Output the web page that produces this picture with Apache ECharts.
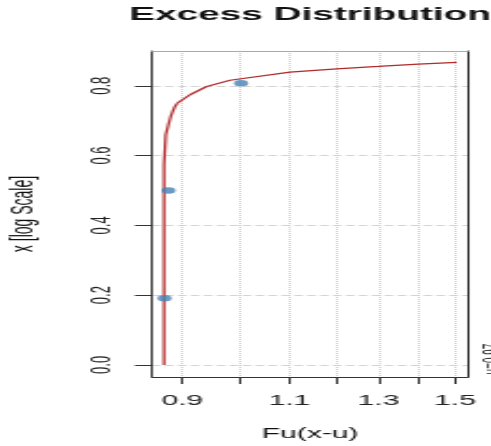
<!DOCTYPE html>
<html>
<head>
<meta charset="utf-8">
<script src="https://cdn.jsdelivr.net/npm/echarts@6/dist/echarts.min.js"></script>
<style>
  html, body { margin: 0; padding: 0; background: #fff; overflow: hidden; }
  #wrap { width: 491px; height: 446px; overflow: hidden; position: relative; }
  /* the plot is laid out narrow and widened horizontally */
  #chart { width: 228px; height: 446px; transform: scaleX(2.1535); transform-origin: 0 0; }
</style>
</head>
<body>
<div id="wrap"><div id="chart"></div></div>
<script>
const titleText = 'Excess Distribution';
const xName = 'Fu(x-u)';
const yName = 'x [log Scale]';
const noteText = 'u=0.97';

const xTicks = [0.9, 1.0, 1.1, 1.2, 1.3, 1.4, 1.5];
const xTickLabels = [0.9, 1.1, 1.3, 1.5];
const yTicks = [0, 0.2, 0.4, 0.6, 0.8];

// lower part of the fitted curve, drawn as steps
const stepX = [0.8697, 0.8697, 0.8725, 0.8768, 0.8807, 0.8840, 0.8878, 0.8917];
const stepY = [0, 0.5735, 0.6595, 0.6882, 0.7120, 0.7263, 0.7406, 0.7504];
// upper part of the fitted curve
const tailX = [0.8917, 0.8962, 0.9131, 0.9421, 0.9842, 1.1012, 1.2019, 1.2993, 1.4003, 1.5048];
const tailY = [0.7504, 0.7550, 0.7742, 0.7980, 0.8158, 0.8393, 0.8487, 0.8553, 0.8622, 0.8668];
// empirical points
const pointX = [0.8705, 0.8768, 1.0047];
const pointY = [0.191, 0.500, 0.807];

const X_MIN = 0.8504, X_MAX = 1.537;
const Y_MIN = -0.0346, Y_MAX = 0.8996;

const FONT = 'Liberation Sans, Arial, sans-serif';
const zip = (a, b) => a.map((v, i) => [v, b[i]]);

const chart = echarts.init(document.getElementById('chart'), null, { width: 228, height: 446, renderer: 'canvas' });

chart.setOption({
  animation: false,
  backgroundColor: '#ffffff',
  title: {
    text: titleText,
    left: 60,
    top: 6,
    padding: 0,
    textStyle: { fontFamily: FONT, fontWeight: 'bold', fontSize: 18, color: '#111' }
  },
  grid: { left: 70.6, right: 10.7, top: 51, bottom: 69, outerBoundsMode: 'none', show: false },
  xAxis: [{
    type: 'log',
    logBase: 10,
    min: X_MIN,
    max: X_MAX,
    position: 'bottom',
    name: xName,
    nameLocation: 'middle',
    nameGap: 50,
    nameTextStyle: { fontFamily: FONT, fontSize: 14, color: '#111' },
    axisLine: { show: true, onZero: false, lineStyle: { color: '#333', width: 1 } },
    axisTick: { show: true, customValues: xTicks, length: 7, lineStyle: { color: '#333', width: 1 } },
    axisLabel: {
      customValues: xTickLabels,
      formatter: v => Number(v).toFixed(1),
      margin: 17, fontFamily: FONT, fontSize: 14, color: '#222'
    },
    splitLine: { show: true, lineStyle: { type: 'dotted', color: '#cfcfcf', width: 1 } }
  }, {
    type: 'log',
    logBase: 10,
    min: X_MIN,
    max: X_MAX,
    position: 'top',
    axisLine: { show: true, onZero: false, lineStyle: { color: '#aaa', width: 1 } },
    axisTick: { show: false },
    axisLabel: { show: false },
    splitLine: { show: false }
  }],
  yAxis: [{
    type: 'value',
    min: Y_MIN,
    max: Y_MAX,
    position: 'left',
    name: yName,
    nameLocation: 'middle',
    nameRotate: 90,
    nameGap: 52,
    nameTextStyle: { fontFamily: FONT, fontSize: 14, color: '#111' },
    axisLine: { show: true, onZero: false, lineStyle: { color: '#333', width: 1 } },
    axisTick: { show: true, customValues: yTicks, length: 8, lineStyle: { color: '#333', width: 1 } },
    axisLabel: {
      customValues: yTicks,
      rotate: 90,
      formatter: v => Number(v).toFixed(1),
      margin: 17, fontFamily: FONT, fontSize: 13, color: '#222'
    },
    splitLine: { show: true, lineStyle: { type: 'dashed', color: '#d4d4d4', width: 1 } }
  }, {
    type: 'value',
    min: Y_MIN,
    max: Y_MAX,
    position: 'right',
    axisLine: { show: true, onZero: false, lineStyle: { color: '#333', width: 1 } },
    axisTick: { show: false },
    axisLabel: { show: false },
    splitLine: { show: false }
  }],
  series: [{
    type: 'line',
    step: 'end',
    data: zip(stepX, stepY),
    showSymbol: false,
    lineStyle: { color: '#b22a2a', width: 1.25 },
    z: 3
  }, {
    type: 'line',
    data: zip(tailX, tailY),
    showSymbol: false,
    lineStyle: { color: '#b22a2a', width: 1.25 },
    z: 3
  }, {
    type: 'scatter',
    data: zip(pointX, pointY),
    symbol: 'circle',
    symbolSize: 6.5,
    itemStyle: { color: '#4682b4' },
    z: 4
  }],
  graphic: [{
    type: 'text',
    x: 224.7,
    y: 359,
    rotation: Math.PI / 2,
    style: {
      text: noteText,
      fontFamily: FONT,
      fontSize: 10,
      fill: '#222',
      align: 'center',
      verticalAlign: 'top'
    }
  }]
});
</script>
</body>
</html>
